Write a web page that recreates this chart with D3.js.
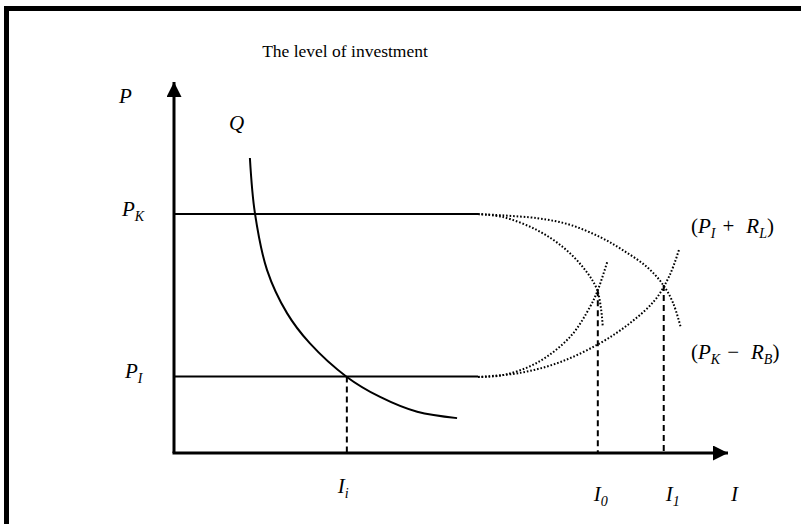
<!DOCTYPE html>
<html>
<head>
<meta charset="utf-8">
<script src="https://cdn.jsdelivr.net/npm/d3@7"></script>
<style>
  body { margin: 0; background: #fff; overflow: hidden; }
  .lbl { font-family: "Liberation Serif", "DejaVu Serif", serif; font-style: italic; font-size: 21px; fill: #000; }
  .title { font-family: "Liberation Serif", serif; font-size: 17.5px; fill: #000; }
</style>
</head>
<body>
<div id="chart"></div>
<script>
// --- data (I on x, P on y, both 0..100 units) ---
const priceLevels = [{key: "PK", value: 64.4}, {key: "PI", value: 20.6}];
const flatEnd = 54.9;                          // where solid P lines turn into dotted curves
const investLevels = [{key: "Ii", value: 31.2, top: 20.6}, {key: "I0", value: 76.5, top: 43.9}, {key: "I1", value: 88.4, top: 45.3}];

// demand curve Q
const qCurve = [[13.7, 79.5], [14.6, 64.7], [16.8, 49.3], [20.4, 37.7], [24.5, 29.6],
                [31.2, 20.5], [37.2, 15.1], [43.9, 11.1], [51.1, 9.4]];

// dotted curves
const curveA = [[54.9, 64.4], [59.4, 63.6], [65.5, 60.1], [70.2, 55.5], [73.8, 50.1], [76.4, 43.9], [77.4, 33.9]];
const curveB = [[54.9, 64.4], [65.5, 63.3], [71.5, 61.5], [76.9, 58.2], [81.0, 54.7], [85.4, 50.1], [88.3, 45.3], [90.1, 40.4], [91.5, 33.7]];
const curveC = [[54.9, 20.5], [59.4, 21.0], [65.5, 24.3], [71.5, 31.3], [75.1, 39.4], [76.5, 43.9], [78.2, 51.5]];
const curveD = [[54.9, 20.5], [62.5, 21.6], [69.7, 24.5], [76.9, 29.6], [82.3, 35.0], [86.8, 41.2], [89.5, 48.0], [91.2, 55.0]];

const W = 801, H = 524;
const svg = d3.select("#chart").append("svg").attr("width", W).attr("height", H);

// frame (only top/left visible in the crop)
svg.append("rect")
    .attr("x", 6.5).attr("y", 8.5)
    .attr("width", W + 20).attr("height", H + 20)
    .attr("fill", "none").attr("stroke", "#000").attr("stroke-width", 5);

// scales
const x = d3.scaleLinear().domain([0, 100]).range([174, 728]);
const y = d3.scaleLinear().domain([0, 100]).range([453, 82]);

// arrow marker
svg.append("defs").append("marker")
    .attr("id", "arrow")
    .attr("viewBox", "0 0 10 10")
    .attr("refX", 10).attr("refY", 5)
    .attr("markerWidth", 16).attr("markerHeight", 15)
    .attr("markerUnits", "userSpaceOnUse")
    .attr("orient", "auto")
    .append("path").attr("d", "M0,0 L10,5 L0,10 Z").attr("fill", "#000");

// axes
svg.append("line")
    .attr("x1", x(0)).attr("y1", y(0)).attr("x2", x(0)).attr("y2", y(100))
    .attr("stroke", "#000").attr("stroke-width", 3).attr("marker-end", "url(#arrow)");
svg.append("line")
    .attr("x1", x(0) - 1.5).attr("y1", y(0)).attr("x2", x(100)).attr("y2", y(0))
    .attr("stroke", "#000").attr("stroke-width", 3).attr("marker-end", "url(#arrow)");

// horizontal price lines
svg.selectAll(".pline")
    .data(priceLevels)
    .enter().append("line")
    .attr("class", "pline")
    .attr("x1", x(0)).attr("x2", x(flatEnd))
    .attr("y1", d => y(d.value)).attr("y2", d => y(d.value))
    .attr("stroke", "#000").attr("stroke-width", 2);

// dashed drop lines
svg.selectAll(".drop")
    .data(investLevels)
    .enter().append("line")
    .attr("class", "drop")
    .attr("x1", d => x(d.value)).attr("x2", d => x(d.value))
    .attr("y1", d => y(d.top)).attr("y2", y(0))
    .attr("stroke", "#000").attr("stroke-width", 2)
    .attr("stroke-dasharray", "6,4");

const line = d3.line().x(d => x(d[0])).y(d => y(d[1])).curve(d3.curveCatmullRom.alpha(0.5));

// Q curve
svg.append("path")
    .datum(qCurve)
    .attr("d", line)
    .attr("fill", "none").attr("stroke", "#000").attr("stroke-width", 2);

// dotted curves
svg.selectAll(".dotted")
    .data([curveA, curveB, curveC, curveD])
    .enter().append("path")
    .attr("class", "dotted")
    .attr("d", line)
    .attr("fill", "none").attr("stroke", "#000").attr("stroke-width", 2)
    .attr("stroke-dasharray", "1.6,1.9");

// title
svg.append("text").attr("class", "title")
    .attr("x", 345).attr("y", 57)
    .attr("text-anchor", "middle")
    .text("The level of investment");

// labels with subscripts
function label(px, py, main, sub) {
    const t = svg.append("text").attr("class", "lbl").attr("x", px).attr("y", py);
    t.append("tspan").text(main);
    if (sub) t.append("tspan").attr("dy", 5).attr("font-size", 14).text(sub);
    return t;
}

label(119, 103, "P");
label(229, 130, "Q");
label(122, y(priceLevels[0].value) + 2, "P", "K");
label(125, y(priceLevels[1].value) + 1, "P", "I");

label(x(investLevels[0].value) - 9, 493, "I", "i");
label(x(investLevels[1].value) - 4, 501, "I", "0");
label(x(investLevels[2].value) + 2, 501, "I", "1");
label(731, 501, "I");

// bracketed combination labels
function combo(py, a, aSub, op, b, bSub) {
    const t = svg.append("text").attr("class", "lbl").attr("x", 691).attr("y", py);
    t.append("tspan").attr("font-style", "normal").text("(");
    t.append("tspan").text(a);
    t.append("tspan").attr("dy", 5).attr("font-size", 14).text(aSub);
    t.append("tspan").attr("dy", -5).attr("dx", 7).attr("font-style", "normal").text(op);
    t.append("tspan").attr("dx", 12).text(b);
    t.append("tspan").attr("dy", 5).attr("font-size", 14).text(bSub);
    t.append("tspan").attr("dy", -5).attr("font-style", "normal").text(")");
}
combo(233, "P", "I", "+", "R", "L");
combo(359, "P", "K", "\u2212", "R", "B");
</script>
</body>
</html>
